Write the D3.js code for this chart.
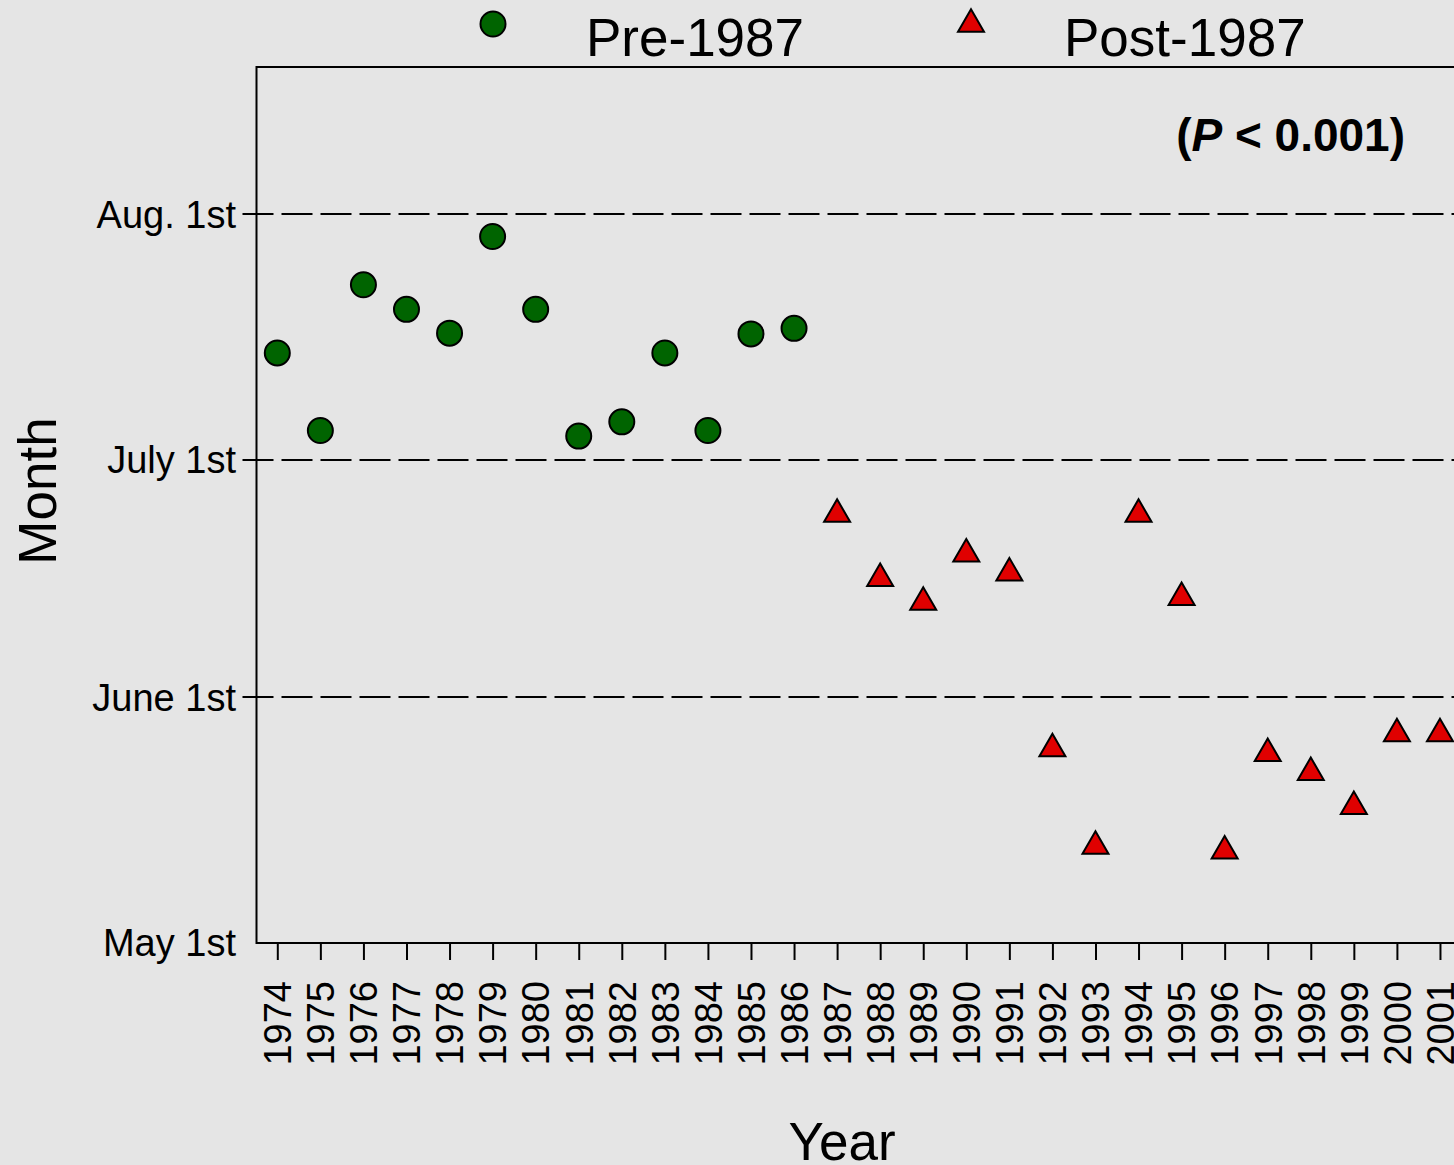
<!DOCTYPE html>
<html>
<head>
<meta charset="utf-8">
<script src="https://cdn.jsdelivr.net/npm/d3@7"></script>
<style>
  html, body { margin: 0; padding: 0; background: #e5e5e5; }
  svg { display: block; }
  text { font-family: "Liberation Sans", Arial, sans-serif; fill: #000; }
</style>
</head>
<body>
<script>
// Day of year on which the event occurred, by year.
const preYears   = [1974, 1975, 1976, 1977, 1978, 1979, 1980, 1981, 1982, 1983, 1984, 1985, 1986];
const preDays    = [195.5, 185.7, 204.1, 201.0, 198.0, 210.2, 201.0, 185.0, 186.8, 195.5, 185.7, 197.9, 198.6];
const postYears  = [1987, 1988, 1989, 1990, 1991, 1992, 1993, 1994, 1995, 1996, 1997, 1998, 1999, 2000, 2001];
const postDays   = [175.6, 167.5, 164.5, 170.6, 168.2, 146.0, 133.7, 175.6, 165.1, 133.1, 145.4, 143.0, 138.7, 147.9, 147.9];

// Month ticks (day of year for the first of each month)
const monthTickDays   = [121, 152, 182, 213];
const monthTickLabels = ["May 1st", "June 1st", "July 1st", "Aug. 1st"];
const yearTicks = d3.range(1974, 2002);

const seriesNames = ["Pre-1987", "Post-1987"];
const annotation = "P < 0.001";

const W = 1454, H = 1165;
const plotLeft = 256.5, plotTop = 67, plotBottom = 943, plotRight = 1461.5;

const svg = d3.select("body").append("svg")
  .attr("width", W).attr("height", H);

svg.append("rect").attr("width", W).attr("height", H).attr("fill", "#e5e5e5");

const x = d3.scaleLinear().domain([1973.517, 2001.5]).range([plotLeft, plotRight]);
const y = d3.scaleLinear().domain([121, 231.6]).range([plotBottom, plotTop]);

// Dashed month reference lines (they start at the tick position left of the axis)
svg.append("g").selectAll("line")
  .data(monthTickDays.filter(d => d !== 121))
  .join("line")
  .attr("x1", plotLeft - 14).attr("x2", W + 10)
  .attr("y1", d => Math.round(y(d))).attr("y2", d => Math.round(y(d)))
  .attr("stroke", "#000").attr("stroke-width", 2)
  .attr("stroke-dasharray", "31,8");

// Y tick labels
svg.append("g").selectAll("text")
  .data(monthTickDays)
  .join("text")
  .attr("x", 236).attr("y", d => y(d))
  .attr("dy", "0.35em")
  .attr("text-anchor", "end")
  .attr("font-size", 38)
  .text((d, i) => monthTickLabels[i]);

// X axis ticks and rotated labels
const xAxis = d3.axisBottom(x).tickValues(yearTicks).tickSize(17).tickSizeOuter(0).tickFormat(d3.format("d"));
const gx = svg.append("g").attr("transform", `translate(0,${plotBottom})`).call(xAxis);
gx.select(".domain").remove();
gx.selectAll(".tick line").attr("stroke", "#000").attr("stroke-width", 2);
gx.selectAll(".tick text")
  .attr("font-size", 38)
  .attr("font-family", "Liberation Sans, Arial, sans-serif")
  .attr("fill", "#000")
  .attr("transform", "rotate(-90)")
  .attr("text-anchor", "end")
  .attr("x", -38)
  .attr("y", 0)
  .attr("dy", "0.35em");

// Plot frame (left, top, bottom; right edge lies beyond the page)
svg.append("path")
  .attr("d", `M${plotRight},${plotTop}H${plotLeft}V${plotBottom}H${plotRight}`)
  .attr("fill", "none").attr("stroke", "#000").attr("stroke-width", 2);

// Marker shapes
const circleR = 12.5;
const triW = 26, triH = 22.5;
const triPath = `M0,${-triH/2}L${triW/2},${triH/2}L${-triW/2},${triH/2}Z`;

const pre = preYears.map((yr, i) => ({ yr, d: preDays[i] }));
const post = postYears.map((yr, i) => ({ yr, d: postDays[i] }));

svg.append("g").selectAll("circle")
  .data(pre)
  .join("circle")
  .attr("cx", p => x(p.yr)).attr("cy", p => y(p.d))
  .attr("r", circleR)
  .attr("fill", "#006400").attr("stroke", "#000").attr("stroke-width", 2);

svg.append("g").selectAll("path")
  .data(post)
  .join("path")
  .attr("d", triPath)
  .attr("transform", p => `translate(${x(p.yr)},${y(p.d)})`)
  .attr("fill", "#e00000").attr("stroke", "#000").attr("stroke-width", 2)
  .attr("stroke-linejoin", "miter");

// Legend
svg.append("circle").attr("cx", 493).attr("cy", 24).attr("r", circleR)
  .attr("fill", "#006400").attr("stroke", "#000").attr("stroke-width", 2);
svg.append("text").attr("x", 586).attr("y", 56).attr("font-size", 53).text(seriesNames[0]);

svg.append("path").attr("d", triPath).attr("transform", "translate(971,20.5)")
  .attr("fill", "#e00000").attr("stroke", "#000").attr("stroke-width", 2);
svg.append("text").attr("x", 1064).attr("y", 56).attr("font-size", 53).text(seriesNames[1]);

// Significance annotation
const ann = svg.append("text").attr("x", 1405).attr("y", 151)
  .attr("text-anchor", "end").attr("font-size", 46).attr("font-weight", "bold");
ann.append("tspan").text("(");
ann.append("tspan").attr("font-style", "italic").text(annotation.split(" ")[0]);
ann.append("tspan").text(" " + annotation.split(" ").slice(1).join(" ") + ")");

// Axis titles
svg.append("text")
  .attr("transform", "translate(56,491) rotate(-90)")
  .attr("text-anchor", "middle").attr("font-size", 53).text("Month");
svg.append("text")
  .attr("x", 842).attr("y", 1160)
  .attr("text-anchor", "middle").attr("font-size", 53).text("Year");
</script>
</body>
</html>
